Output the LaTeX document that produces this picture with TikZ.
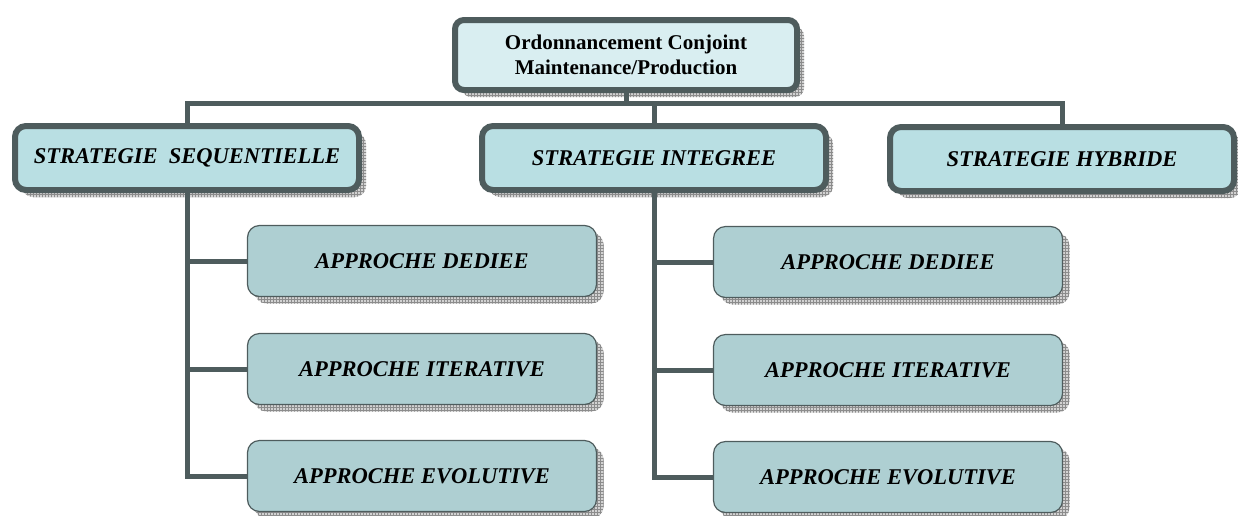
\documentclass[tikz,border=0pt]{standalone}
\usepackage{fontspec}
\setmainfont{Liberation Serif}
\usetikzlibrary{shadows,patterns}

\definecolor{edge}{HTML}{4E5C5D}
\definecolor{topfill}{HTML}{D9EEF1}
\definecolor{stratfill}{HTML}{B9DFE3}
\definecolor{appfill}{HTML}{AECFD2}

\tikzset{
	grid shadow/.style={
		general shadow={fill=gray!35, shadow xshift=7pt, shadow yshift=-7pt},
		general shadow={pattern=grid, pattern color=gray!90, shadow xshift=7pt, shadow yshift=-7pt}},
	rootbox/.style={draw=edge, line width=6pt, fill=topfill, rounded corners=9pt,
		minimum width=342pt, minimum height=70pt, align=center, grid shadow,
		font=\fontsize{21}{25}\selectfont\bfseries},
	stratbox/.style={draw=edge, line width=6pt, fill=stratfill, rounded corners=11pt,
		minimum width=344pt, minimum height=64pt, grid shadow,
		font=\fontsize{22.5}{26}\selectfont\bfseries\itshape},
	appbox/.style={draw=edge, line width=1.2pt, fill=appfill, rounded corners=12pt,
		minimum width=349pt, minimum height=71pt, grid shadow,
		font=\fontsize{22.5}{26}\selectfont\bfseries\itshape},
	bus/.style={draw=edge, line width=5pt}
}

\begin{document}
\begin{tikzpicture}[x=1pt, y=-1pt]
	\useasboundingbox (0,0) rectangle (1238,515);
	% top
	\node[rootbox] (root) at (626, 55) {Ordonnancement Conjoint\\Maintenance/Production};
	\coordinate (bus) at (0, 103);
	% strategies
	\node[stratbox] (seq) at (187, 158) {STRATEGIE\ \ SEQUENTIELLE};
	\node[stratbox] (int) at (654, 158) {STRATEGIE INTEGREE};
	\node[stratbox] (hyb) at (1062, 159) {STRATEGIE HYBRIDE};
	% approches
	\node[appbox] (seq1) at (422, 261) {APPROCHE DEDIEE};
	\node[appbox] (seq2) at (422, 369) {APPROCHE ITERATIVE};
	\node[appbox] (seq3) at (422, 476) {APPROCHE EVOLUTIVE};
	\node[appbox] (int1) at (888, 262) {APPROCHE DEDIEE};
	\node[appbox] (int2) at (888, 370) {APPROCHE ITERATIVE};
	\node[appbox] (int3) at (888, 477) {APPROCHE EVOLUTIVE};
	% connectors
	\draw[bus] (root.south) -- (root.south |- bus);
	\draw[bus] (seq.north) |- (hyb.north |- bus) -- (hyb.north);
	\draw[bus] (int.north) -- (int.north |- bus);
	\draw[bus] (seq.south) |- (seq3.west);
	\draw[bus] (seq.south |- seq1.west) -- (seq1.west);
	\draw[bus] (seq.south |- seq2.west) -- (seq2.west);
	\draw[bus] (int.south) |- (int3.west);
	\draw[bus] (int.south |- int1.west) -- (int1.west);
	\draw[bus] (int.south |- int2.west) -- (int2.west);
\end{tikzpicture}
\end{document}
